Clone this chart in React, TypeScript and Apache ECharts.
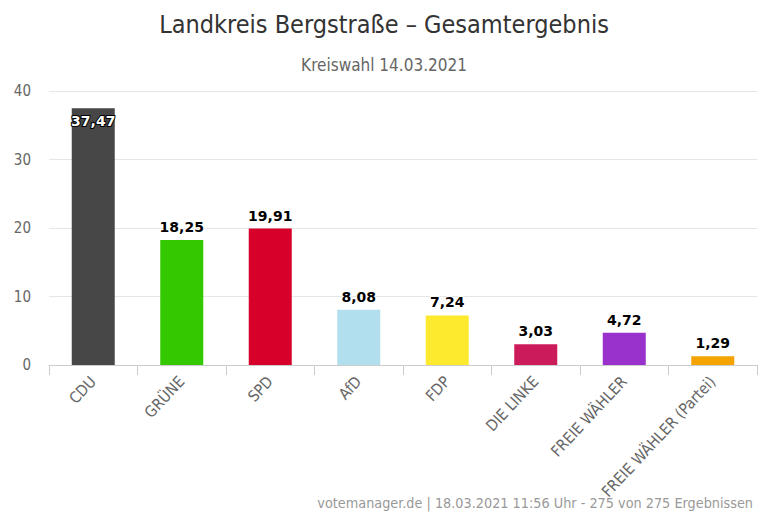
import React, { useEffect, useRef } from "react";
import * as echarts from "echarts";

const categories = ["CDU", "GRÜNE", "SPD", "AfD", "FDP", "DIE LINKE", "FREIE WÄHLER", "FREIE WÄHLER (Partei)"];
const values = [37.47, 18.25, 19.91, 8.08, 7.24, 3.03, 4.72, 1.29];
const colors = ["#474747", "#33c800", "#d7002a", "#b1dfee", "#fdea2e", "#cc1b5a", "#9932cc", "#f5a300"];
const yTicks = [0, 10, 20, 30, 40];

const FONT = "'DejaVu Sans Condensed', 'DejaVu Sans', sans-serif";

export default function App() {
  const ref = useRef<HTMLDivElement>(null);
  useEffect(() => {
    if (!ref.current) return;
    const chart = echarts.init(ref.current, null, { renderer: "svg" });
    chart.setOption({
      animation: false,
      backgroundColor: "#ffffff",
      title: [
        {
          text: "Landkreis Bergstraße – Gesamtergebnis",
          left: "center",
          top: 7,
          textStyle: { fontFamily: FONT, fontSize: 25, fontWeight: "normal", color: "#333333" },
        },
        {
          text: "Kreiswahl 14.03.2021",
          left: "center",
          top: 51,
          textStyle: { fontFamily: FONT, fontSize: 17, fontWeight: "normal", color: "#666666" },
        },
        {
          text: "votemanager.de | 18.03.2021 11:56 Uhr - 275 von 275 Ergebnissen",
          right: 10,
          top: 491,
          textStyle: { fontFamily: FONT, fontSize: 14.3, fontWeight: "normal", color: "#999999" },
        },
      ],
      grid: { left: 49, right: 11, top: 91, bottom: 147, containLabel: false },
      xAxis: {
        type: "category",
        data: categories,
        axisLine: { show: true, lineStyle: { color: "#cccccc" } },
        axisTick: { show: true, alignWithLabel: false, length: 10, lineStyle: { color: "#cccccc" } },
        axisLabel: {
          rotate: 47,
          interval: 0,
          margin: 14,
          fontFamily: FONT,
          fontSize: 15.5,
          color: "#666666",
        },
      },
      yAxis: {
        type: "value",
        min: yTicks[0],
        max: yTicks[yTicks.length - 1],
        interval: 10,
        axisLine: { show: false },
        axisTick: { show: false },
        splitLine: { lineStyle: { color: "#e6e6e6" } },
        axisLabel: { fontFamily: FONT, fontSize: 15, color: "#666666", margin: 18 },
      },
      series: [
        {
          type: "bar",
          barWidth: 43,
          data: values.map((v, i) => {
            const inside = i === 0;
            return {
              value: v,
              itemStyle: { color: colors[i] },
              label: inside
                ? {
                    show: true,
                    position: "insideTop",
                    distance: 6,
                    color: "#ffffff",
                    textBorderColor: "#000000",
                    textBorderWidth: 2,
                  }
                : {
                    show: true,
                    position: "top",
                    distance: 6,
                    color: "#000000",
                    textBorderColor: "#ffffff",
                    textBorderWidth: 2,
                  },
            };
          }),
          label: {
            show: true,
            fontFamily: "'DejaVu Sans', sans-serif",
            fontSize: 14,
            fontWeight: "bold",
            formatter: (p: any) => p.value.toFixed(2).replace(".", ","),
          },
        },
      ],
    });
    return () => chart.dispose();
  }, []);
  return <div ref={ref} style={{ width: 768, height: 512, position: "absolute", left: 0, top: 0 }} />;
}
